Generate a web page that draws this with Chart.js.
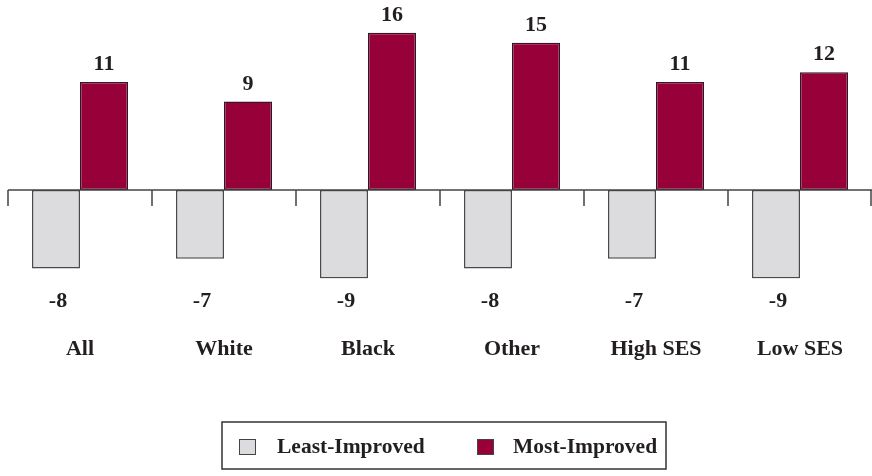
<!DOCTYPE html>
<html>
<head>
<meta charset="utf-8">
<script src="https://cdn.jsdelivr.net/npm/chart.js@4/dist/chart.umd.min.js"></script>
<style>
  html, body { margin: 0; padding: 0; background: #fff; }
  #wrap { width: 872px; height: 476px; }
</style>
</head>
<body>
<div id="wrap"><canvas id="grafico" width="872" height="476"></canvas></div>
<script>
// dados
const categorias = ['All', 'White', 'Black', 'Other', 'High SES', 'Low SES'];
const menosMelhorados = [-8, -7, -9, -8, -7, -9];
const maisMelhorados = [11, 9, 16, 15, 11, 12];
const nomesSeries = ['Least-Improved', 'Most-Improved'];

const corCinza = '#dcdcde';
const corVinho = '#98003a';
const corTexto = '#231f20';
const fonte = 'bold 22px "Liberation Serif", "DejaVu Serif", serif';
const fonteLegenda = 'bold 21.5px "Liberation Serif", "DejaVu Serif", serif';

// eixo zero, marcas, rótulos e legenda desenhados à mão
const extras = {
    id: 'extras',
    afterDatasetsDraw(chart) {
        const ctx = chart.ctx;
        const area = chart.chartArea;
        const x = chart.scales.x;
        const y = chart.scales.y;
        const y0 = y.getPixelForValue(0);
        const passo = (area.right - area.left) / categorias.length;

        ctx.save();
        ctx.strokeStyle = '#444';
        ctx.lineWidth = 1.5;
        ctx.beginPath();
        ctx.moveTo(area.left, y0);
        ctx.lineTo(area.right, y0);
        for (let i = 0; i <= categorias.length; i++) {
            const px = Math.min(area.left + passo * i, area.right - 1);
            ctx.moveTo(px, y0);
            ctx.lineTo(px, y0 + 16);
        }
        ctx.stroke();

        ctx.fillStyle = corTexto;
        ctx.font = fonte;
        ctx.textAlign = 'center';

        chart.getDatasetMeta(0).data.forEach((bar, i) => {
            ctx.textBaseline = 'middle';
            ctx.fillText(String(menosMelhorados[i]), bar.x + 2, y0 + 111);
        });
        chart.getDatasetMeta(1).data.forEach((bar, i) => {
            ctx.textBaseline = 'alphabetic';
            ctx.fillText(String(maisMelhorados[i]), bar.x, bar.y - 12);
        });
        categorias.forEach((c, i) => {
            ctx.textBaseline = 'middle';
            ctx.fillText(c, x.getPixelForValue(i), y0 + 159);
        });

        // legenda
        ctx.strokeStyle = '#333';
        ctx.lineWidth = 1.5;
        ctx.strokeRect(222, 422, 444, 47);
        ctx.font = fonteLegenda;
        const itens = [
            { nome: nomesSeries[0], cor: corCinza, bx: 239, tx: 277 },
            { nome: nomesSeries[1], cor: corVinho, bx: 477, tx: 513 }
        ];
        itens.forEach(it => {
            ctx.fillStyle = it.cor;
            ctx.fillRect(it.bx, 439, 17, 16);
            ctx.strokeStyle = '#444';
            ctx.lineWidth = 1;
            ctx.strokeRect(it.bx + 0.5, 439.5, 16, 15);
            ctx.fillStyle = corTexto;
            ctx.textAlign = 'left';
            ctx.textBaseline = 'middle';
            ctx.fillText(it.nome, it.tx, 447);
        });
        ctx.restore();
    }
};

const ctx = document.getElementById('grafico').getContext('2d');
new Chart(ctx, {
    type: 'bar',
    data: {
        labels: categorias,
        datasets: [
            {
                label: nomesSeries[0],
                data: menosMelhorados,
                backgroundColor: corCinza,
                borderColor: '#4a4a4a',
                borderWidth: 1.5,
                borderSkipped: false
            },
            {
                label: nomesSeries[1],
                data: maisMelhorados,
                backgroundColor: corVinho,
                borderColor: '#3a1422',
                borderWidth: 1.5,
                borderSkipped: false
            }
        ]
    },
    options: {
        responsive: false,
        animation: false,
        devicePixelRatio: 1,
        layout: {
            padding: { left: 8, right: 0, top: 3.4, bottom: 197.6 }
        },
        datasets: {
            bar: {
                categoryPercentage: 96 / 144,
                barPercentage: 1
            }
        },
        scales: {
            x: { display: false },
            y: { display: false, min: -9, max: 19 }
        },
        plugins: {
            legend: { display: false },
            tooltip: { enabled: false }
        }
    },
    plugins: [extras]
});
</script>
</body>
</html>
